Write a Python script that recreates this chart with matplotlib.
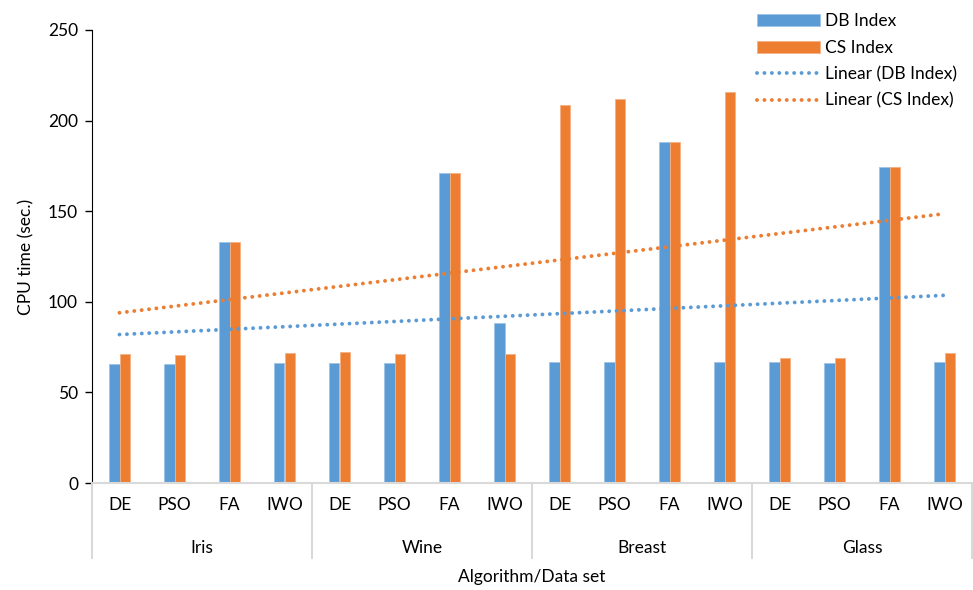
import matplotlib.pyplot as plt
import numpy as np

plt.rcParams['font.family'] = ['Lato', 'DejaVu Sans']

# data
datasets = ['Iris', 'Wine', 'Breast', 'Glass']
algorithms = ['DE', 'PSO', 'FA', 'IWO']
db_index = [65.8, 65.4, 133.0, 66.0,
            66.2, 66.2, 171.1, 88.3,
            66.6, 66.6, 188.0, 66.6,
            66.6, 66.4, 174.6, 66.6]
cs_index = [71.0, 70.8, 133.0, 71.6,
            72.1, 71.4, 171.1, 71.2,
            208.4, 212.1, 188.0, 215.6,
            69.0, 68.8, 174.6, 71.7]

blue = '#5B9BD5'
orange = '#ED7D31'
fs = 12.5

fig = plt.figure(figsize=(9.73, 5.9), dpi=100)
ax = fig.add_axes([92 / 973, 107 / 590, 880 / 973, 453 / 590])

n = len(db_index)
x = np.arange(n)
w = 0.195
b1 = ax.bar(x - w / 2, db_index, w, color=blue, edgecolor='#9CC3E6', linewidth=0.6, label='DB Index', zorder=2)
b2 = ax.bar(x + w / 2, cs_index, w, color=orange, edgecolor='#F4B183', linewidth=0.6, label='CS Index', zorder=2)

# linear trend lines (excel style, x = 1..n)
xs = np.arange(1, n + 1)
trends = []
for vals, col, lab in [(db_index, blue, 'Linear (DB Index)'), (cs_index, orange, 'Linear (CS Index)')]:
    k, b = np.polyfit(xs, vals, 1)
    ln, = ax.plot(x, k * xs + b, color=col, linewidth=2.8, linestyle=(0, (0.01, 1.9)),
                  dash_capstyle='round', label=lab, zorder=3)
    trends.append(ln)

ax.set_xlim(-0.5, n - 0.5)
ax.set_ylim(0, 250)
ax.set_yticks(range(0, 251, 50))
ax.tick_params(axis='y', labelsize=fs, length=5, width=1, direction='out', pad=5)
ax.spines['top'].set_visible(False)
ax.spines['right'].set_visible(False)
ax.spines['left'].set_color('black')
ax.spines['bottom'].set_color('#D9D9D9')
ax.spines['bottom'].set_linewidth(1.5)

# algorithm labels
ax.set_xticks(x)
ax.set_xticklabels(algorithms * len(datasets), fontsize=fs)
ax.tick_params(axis='x', length=0, pad=10)

# dataset labels and separators
tr = ax.get_xaxis_transform()
for i, name in enumerate(datasets):
    ax.text(i * 4 + 1.5, -0.143, name, transform=tr, ha='center', va='center', fontsize=fs)
for i in range(len(datasets) + 1):
    ax.plot([i * 4 - 0.5] * 2, [0, -0.166], transform=tr, color='#D9D9D9',
            linewidth=1.5, clip_on=False)

ax.set_ylabel('CPU time (sec.)', fontsize=fs, labelpad=10)
fig.text(532 / 973, 1 - 577 / 590, 'Algorithm/Data set', ha='center', va='center', fontsize=fs)

ax.legend([b1, b2] + trends, ['DB Index', 'CS Index', 'Linear (DB Index)', 'Linear (CS Index)'],
          loc='upper left', bbox_to_anchor=(747 / 973, 0.995), bbox_transform=fig.transFigure,
          frameon=False, fontsize=fs, handlelength=3.6, labelspacing=0.6, handletextpad=0.3,
          borderaxespad=0.2)

fig.savefig('out.png', dpi=100)
